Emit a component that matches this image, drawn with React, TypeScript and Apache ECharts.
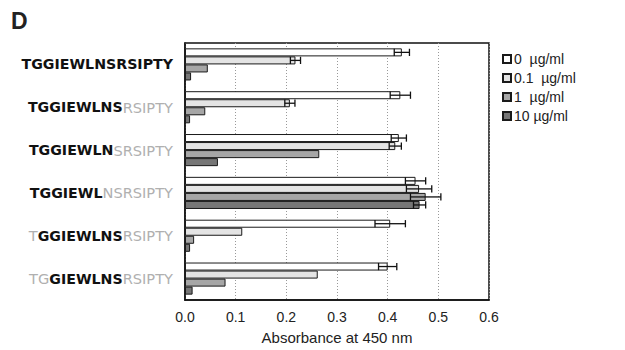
import React, { useEffect, useRef } from "react";
import * as echarts from "echarts";

const categories = [
  "TGGIEWLNSRSIPTY",
  "TGGIEWLNSRSIPTY ",
  "TGGIEWLNSRSIPTY  ",
  "TGGIEWLNSRSIPTY   ",
  "TGGIEWLNSRSIPTY    ",
  "TGGIEWLNSRSIPTY     ",
];
// [gray prefix, black middle, gray suffix]
const labelParts: [string, string, string][] = [
  ["", "TGGIEWLNSRSIPTY", ""],
  ["", "TGGIEWLNS", "RSIPTY"],
  ["", "TGGIEWLN", "SRSIPTY"],
  ["", "TGGIEWL", "NSRSIPTY"],
  ["T", "GGIEWLNS", "RSIPTY"],
  ["TG", "GIEWLNS", "RSIPTY"],
];
const seriesNames = ["0  µg/ml", "0.1  µg/ml", "1  µg/ml", "10 µg/ml"];
const seriesColors = ["#ffffff", "#e4e4e4", "#a6a6a6", "#767676"];
const values0 = [0.428, 0.425, 0.422, 0.455, 0.405, 0.4];
const values01 = [0.218, 0.207, 0.415, 0.462, 0.113, 0.262];
const values1 = [0.045, 0.04, 0.265, 0.475, 0.018, 0.08];
const values10 = [0.012, 0.01, 0.065, 0.463, 0.01, 0.015];
const errors0 = [0.015, 0.02, 0.015, 0.02, 0.03, 0.018];
const errors01 = [0.01, 0.01, 0.012, 0.025, 0, 0];
const errors1 = [0, 0, 0, 0.03, 0, 0];
const errors10 = [0, 0, 0, 0.012, 0, 0];
const xTicks = [0, 0.1, 0.2, 0.3, 0.4, 0.5, 0.6];

const allValues = [values0, values01, values1, values10];
const allErrors = [errors0, errors01, errors1, errors10];

export default function App() {
  const ref = useRef<HTMLDivElement>(null);
  useEffect(() => {
    if (!ref.current) return;
    const chart = echarts.init(ref.current, undefined, { renderer: "svg" });
    const catGap = 0.25;
    const nSeries = allValues.length;
    const errData: number[][] = [];
    allValues.forEach((vals, s) => {
      vals.forEach((v, c) => {
        const e = allErrors[s][c];
        if (e > 0) errData.push([c, s, v, e]);
      });
    });
    const barSeries = allValues.map((vals, s) => ({
      type: "bar",
      name: seriesNames[s],
      data: vals,
      barGap: "0%",
      barCategoryGap: catGap * 100 + "%",
      itemStyle: { color: seriesColors[s], borderColor: "#1a1a1a", borderWidth: 1 },
      z: 2,
    }));
    chart.setOption({
      animation: false,
      backgroundColor: "#ffffff",
      graphic: [
        {
          type: "text",
          left: 11,
          top: 9,
          style: { text: "D", font: "bold 23px Arial", fill: "#222" },
        },
      ],
      legend: {
        orient: "vertical",
        left: 497,
        top: 47,
        itemWidth: 8,
        itemHeight: 8,
        itemGap: 5,
        icon: "rect",
        data: seriesNames,
        textStyle: { fontFamily: "Arial", fontSize: 14, color: "#222", padding: [0, 0, 0, -2] },
      },
      grid: {
        left: 185,
        right: 136,
        top: 43,
        bottom: 50,
        show: true,
        borderColor: "#111",
        borderWidth: 1.5,
        backgroundColor: "transparent",
      },
      xAxis: {
        type: "value",
        min: 0,
        max: 0.6,
        interval: 0.1,
        name: "Absorbance at 450 nm",
        nameLocation: "middle",
        nameGap: 30,
        nameTextStyle: { fontFamily: "Arial", fontSize: 15, color: "#222" },
        axisLine: { show: true, lineStyle: { color: "#111", width: 1.5 } },
        axisTick: { show: false },
        axisLabel: {
          fontFamily: "Arial",
          fontSize: 14,
          color: "#222",
          margin: 10,
          formatter: (v: number) => {
            const t = xTicks.find((x) => Math.abs(x - v) < 1e-9);
            return (t ?? v).toFixed(1);
          },
        },
        splitLine: { show: true, lineStyle: { color: "#999", type: [1, 2], width: 1 } },
      },
      yAxis: {
        type: "category",
        inverse: true,
        data: categories,
        axisLine: { show: true, lineStyle: { color: "#111", width: 1.5 } },
        axisTick: { show: false },
        splitLine: { show: false },
        axisLabel: {
          margin: 12,
          formatter: (_v: string, i: number) => {
            const p = labelParts[i];
            let out = "";
            if (p[0]) out += "{g|" + p[0] + "}";
            if (p[1]) out += "{b|" + p[1] + "}";
            if (p[2]) out += "{g|" + p[2] + "}";
            return out;
          },
          rich: {
            b: { fontFamily: "DejaVu Sans", fontWeight: "bold", fontSize: 14.2, color: "#111" },
            g: { fontFamily: "DejaVu Sans", fontWeight: "normal", fontSize: 14.6, color: "#b0b0b0" },
          },
        },
      },
      series: [
        ...barSeries,
        {
          type: "custom",
          name: "err",
          data: errData,
          z: 5,
          encode: { x: 2, y: 0 },
          renderItem: (params: any, api: any) => {
            const c = api.value(0);
            const s = api.value(1);
            const v = api.value(2);
            const e = api.value(3);
            const center = api.coord([v, c]);
            const band = api.size([0, 1])[1];
            const barW = (band * (1 - catGap)) / nSeries;
            const y = center[1] - (band * (1 - catGap)) / 2 + barW * (s + 0.5);
            const x1 = api.coord([v - e, c])[0];
            const x2 = api.coord([v + e, c])[0];
            const h = barW * 0.45;
            const st = { stroke: "#111", lineWidth: 1.3 };
            return {
              type: "group",
              children: [
                { type: "line", shape: { x1, y1: y, x2, y2: y }, style: st },
                { type: "line", shape: { x1, y1: y - h, x2: x1, y2: y + h }, style: st },
                { type: "line", shape: { x1: x2, y1: y - h, x2, y2: y + h }, style: st },
              ],
            };
          },
        },
      ],
    });
    return () => chart.dispose();
  }, []);
  return <div ref={ref} style={{ width: 625, height: 350, position: "absolute", left: 0, top: 0 }} />;
}
